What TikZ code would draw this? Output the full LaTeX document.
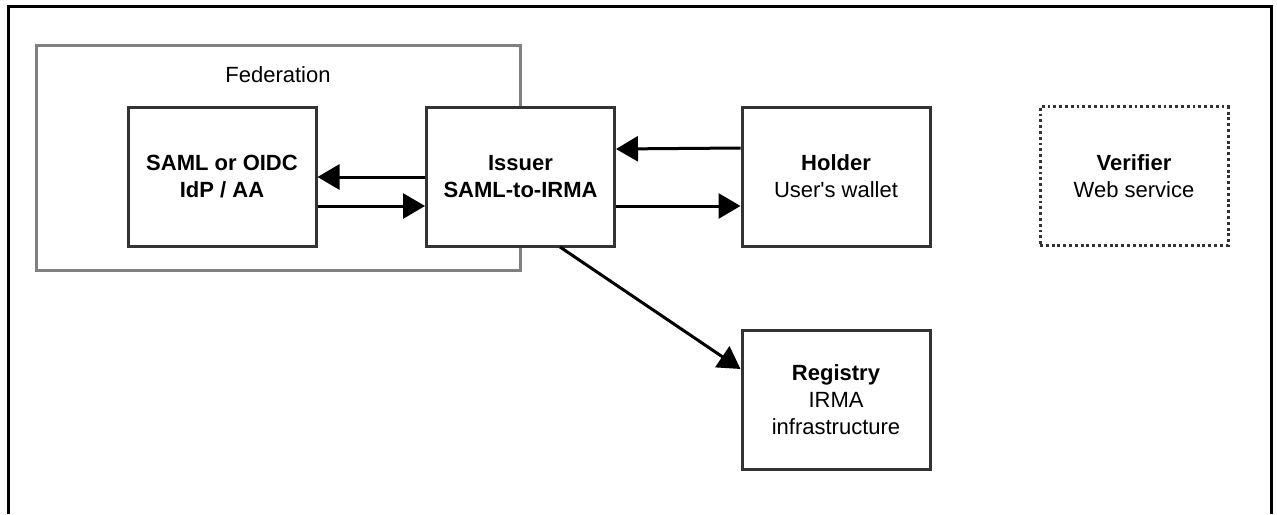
\documentclass[tikz,border=0pt]{standalone}
\usepackage{fontspec}
\setmainfont{Liberation Sans}
\usetikzlibrary{arrows.meta}
\definecolor{boxline}{HTML}{333333}
\definecolor{fedline}{HTML}{808080}
\tikzset{
  unit/.style={x=0.5pt,y=-0.5pt},
  ent/.style={draw=boxline,line width=1.5pt,fill=white,minimum width=94pt,minimum height=69.5pt,inner sep=0pt,align=center,font=\fontsize{11}{13.5}\selectfont},
  dotbox/.style={ent,line width=1.5pt,dash pattern=on 1.45pt off 1.45pt},
  conn/.style={line width=1.5pt,-{Triangle[length=11pt,width=12.5pt]}},
}
\begin{document}
\begin{tikzpicture}[unit]
\useasboundingbox (0,0) rectangle (1277,514);
\draw[line width=1.5pt,black] (8,514) -- (8,6) -- (1271,6) -- (1271,514);
\draw[fedline,line width=1.5pt] (36,45) rectangle (520,270);
\node[font=\fontsize{11}{13.5}\selectfont] (fedlabel) at (278,75) {Federation};
\node[ent] (idp) at (222,176.5) {\textbf{SAML or OIDC}\\\textbf{IdP / AA}};
\node[ent] (iss) at (520.5,176.5) {\textbf{Issuer}\\\textbf{SAML-to-IRMA}};
\node[ent] (hold) at (836,176.5) {\textbf{Holder}\\User\textquotesingle s wallet};
\node[dotbox] (ver) at (1134,176) {\textbf{Verifier}\\Web service};
\node[ent] (reg) at (836,399.5) {\textbf{Registry}\\IRMA\\infrastructure};
\draw[conn] (iss.west |- 0,177) -- (idp.east |- 0,177);
\draw[conn] (idp.east |- 0,206) -- (iss.west |- 0,206);
\draw[conn] (hold.west |- 0,148) -- (iss.east |- 0,149);
\draw[conn] (iss.east |- 0,206) -- (hold.west |- 0,206);
\coordinate (regstart) at (560,247);
\draw[conn] (regstart) -- (reg.west |- 0,369);
\end{tikzpicture}
\end{document}
